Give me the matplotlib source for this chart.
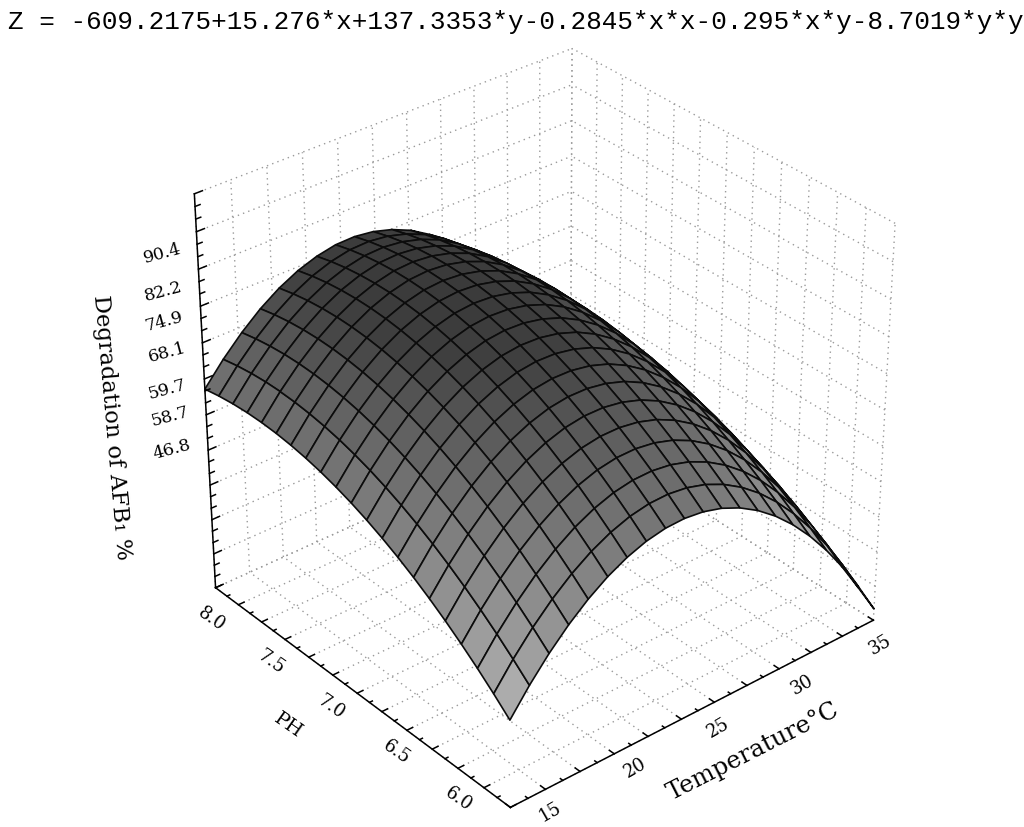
import numpy as np
import matplotlib
matplotlib.use('Agg')
import matplotlib.pyplot as plt
from matplotlib.colors import LinearSegmentedColormap, Normalize

title = "Z = -609.2175+15.276*x+137.3353*y-0.2845*x*x-0.295*x*y-8.7019*y*y"
temperature = [15,16,17,18,19,20,21,22,23,24,25,26,27,28,29,30,31,32,33,34,35]
ph = [6.0,6.1,6.2,6.3,6.4,6.5,6.6,6.7,6.8,6.9,7.0,7.1,7.2,7.3,7.4,7.5,7.6,7.7,7.8,7.9,8.0]
degradation = [
[40.10,44.79,48.91,52.45,55.43,57.84,59.68,60.96,61.66,61.79,61.36,60.36,58.78,56.64,53.93,50.65,46.80,42.38,37.40,31.84,25.72],
[42.86,47.52,51.61,55.12,58.07,60.45,62.26,63.52,64.19,64.29,63.83,62.80,61.19,59.02,56.28,52.97,49.09,44.64,39.63,34.04,27.89],
[45.45,50.08,54.14,57.62,60.54,62.89,64.67,65.90,66.54,66.61,66.12,65.06,63.42,61.22,58.45,55.12,51.21,46.73,41.69,36.07,29.89],
[47.86,52.46,56.49,59.95,62.84,65.16,66.91,68.11,68.72,68.76,68.24,67.15,65.48,63.25,60.45,57.09,53.15,48.64,43.57,37.92,31.71],
[50.10,54.67,58.67,62.10,64.96,67.25,68.97,70.14,70.72,70.73,70.18,69.07,67.37,65.11,62.28,58.89,54.92,50.38,45.28,39.60,33.36],
[52.17,56.71,60.68,64.08,66.91,69.17,70.86,72.00,72.55,72.53,71.95,70.81,69.08,66.79,63.93,60.51,56.51,51.94,46.81,41.11,34.84],
[54.06,58.57,62.51,65.88,68.68,70.91,72.57,73.69,74.21,74.16,73.55,72.38,70.62,68.30,65.41,61.96,57.93,53.33,48.17,42.44,36.14],
[55.78,60.26,64.17,67.51,70.28,72.48,74.11,75.20,75.69,75.61,74.97,73.77,71.98,69.63,66.71,63.24,59.18,54.55,49.36,43.60,37.27],
[57.32,61.77,65.65,68.97,71.71,73.88,75.48,76.54,77.00,76.89,76.22,74.99,73.17,70.79,67.84,64.34,60.25,55.59,50.37,44.58,38.22],
[58.69,63.11,66.96,70.25,72.96,75.10,76.67,77.70,78.13,77.99,77.29,76.04,74.19,71.78,68.80,65.27,61.15,56.46,51.21,45.39,39.00],
[59.89,64.28,68.10,71.36,74.04,76.15,77.69,78.69,79.09,78.92,78.19,76.91,75.03,72.59,69.58,66.02,61.87,57.15,51.87,46.03,39.61],
[60.91,65.27,69.06,72.29,74.94,77.02,78.53,79.51,79.88,79.68,78.92,77.61,75.70,73.23,70.19,66.60,62.42,57.67,52.36,46.49,40.04],
[61.76,66.09,69.85,73.05,75.67,77.72,79.20,80.15,80.49,80.26,79.47,78.13,76.19,73.69,70.62,67.01,62.80,58.02,52.68,46.78,40.30],
[62.43,66.73,70.46,73.64,76.23,78.25,79.70,80.62,80.93,80.67,79.85,78.48,76.51,73.98,70.88,67.24,63.00,58.19,52.82,46.89,40.38],
[62.93,67.20,70.90,74.05,76.61,78.60,80.02,80.91,81.19,80.90,80.05,78.66,76.66,74.10,70.97,67.30,63.03,58.19,52.79,46.83,40.29],
[63.26,67.50,71.17,74.29,76.82,78.78,80.17,81.03,81.28,80.96,80.08,78.66,76.63,74.04,70.88,67.18,62.88,58.01,52.58,46.60,40.03],
[63.41,67.62,71.26,74.35,76.85,78.78,80.14,80.98,81.20,80.85,79.94,78.49,76.43,73.81,70.62,66.89,62.56,57.66,52.20,46.19,39.59],
[63.39,67.57,71.18,74.24,76.71,78.61,79.94,80.75,80.94,80.56,79.62,78.14,76.05,73.40,70.18,66.43,62.07,57.14,51.65,45.61,38.98],
[63.19,67.34,70.92,73.96,76.40,78.27,79.57,80.35,80.51,80.10,79.13,77.62,75.50,72.82,69.57,65.79,61.40,56.44,50.92,44.85,38.19],
[62.82,66.94,70.49,73.50,75.91,77.75,79.02,79.77,79.90,79.46,78.46,76.93,74.78,72.07,68.79,64.98,60.56,55.57,50.02,43.92,37.23],
[62.28,66.37,69.89,72.87,75.25,77.06,78.30,79.02,79.12,78.65,77.62,76.06,73.88,71.14,67.83,63.99,59.54,54.52,48.94,42.82,36.10],
]
temp_ticks = ['15','20','25','30','35']
ph_ticks = ['6.0','6.5','7.0','7.5','8.0']
z_ticks = ['90.4','82.2','74.9','68.1','59.7','58.7','46.8']

T0, T1 = temperature[0], temperature[-1]
P0, P1 = ph[0], ph[-1]
ZMIN, ZMAX = 23.458, 98.131
X, Y = np.meshgrid(temperature, ph)
Z = np.array(degradation)

W, H = 1024, 828
fig = plt.figure(figsize=(W/100, H/100), dpi=100)
ax = fig.add_axes([130.7/W, 2.8/H, 801.9/W, 801.9/H], projection='3d', computed_zorder=False)
ax.set_xlim(T0, T1, view_margin=0)
ax.set_ylim(P0, P1, view_margin=0)
ax.set_zlim(ZMIN, ZMAX, view_margin=0)
ax.set_axis_off()
ax.view_init(elev=32.325, azim=-129.954)
ax.set_proj_type('persp', focal_length=0.912)
ax.set_box_aspect((1.005, 1, 0.973))

GRID = dict(color='#9a9a9a', linewidth=1.0, linestyle=(0, (1, 3)), zorder=1)
TT = np.linspace(T0, T1, 12)
PP = np.linspace(P0, P1, 13)
ZZ = np.linspace(ZMIN, ZMAX, 12)
for v in TT:
    ax.plot([v,v],[P0,P1],[ZMIN,ZMIN],**GRID)
    ax.plot([v,v],[P1,P1],[ZMIN,ZMAX],**GRID)
for v in PP:
    ax.plot([T0,T1],[v,v],[ZMIN,ZMIN],**GRID)
    ax.plot([T1,T1],[v,v],[ZMIN,ZMAX],**GRID)
for v in ZZ:
    ax.plot([T0,T1],[P1,P1],[v,v],**GRID)
    ax.plot([T1,T1],[P0,P1],[v,v],**GRID)

cm = LinearSegmentedColormap.from_list('g', [(0, '#bcbcbc'), (24/43, '#787878'), (32/43, '#5e5e5e'),
                                             (36/43, '#505050'), (39/43, '#404040'), (1, '#3a3a3a')])
ax.plot_surface(X, Y, Z, rstride=1, cstride=1, cmap=cm, norm=Normalize(38, 81), shade=False,
                edgecolor='#0c0c0c', linewidth=1.2, antialiased=True, zorder=3)

AX = dict(color='black', linewidth=1.1, zorder=5)
ax.plot([T0,T1],[P0,P0],[ZMIN,ZMIN],**AX)
ax.plot([T0,T0],[P0,P1],[ZMIN,ZMIN],**AX)
ax.plot([T0,T0],[P1,P1],[ZMIN,ZMAX],**AX)
for i, v in enumerate(np.linspace(T0,T1,23)):
    ax.plot([v,v],[P0,P0+(0.03 if i%2==0 else 0.015)],[ZMIN,ZMIN],**AX)
for i, v in enumerate(np.linspace(P0,P1,25)):
    ax.plot([T0,T0+(0.3 if i%2==0 else 0.15)],[v,v],[ZMIN,ZMIN],**AX)
for i, v in enumerate(np.linspace(ZMIN,ZMAX,34)):
    ax.plot([T0,T0+(0.4 if i%3==0 else 0.25)],[P1,P1],[v,v],**AX)

def lab(px, py, s_, rot, size, fam='DejaVu Serif'):
    fig.text(px/W, 1-py/H, s_, rotation=rot, rotation_mode='anchor', fontsize=size, family=fam,
             ha='center', va='center', color='black')

for (px,py),s_ in zip([(550,812),(635,768),(718,728),(802,685),(880,645)], temp_ticks):
    lab(px,py,s_,30,13)
for (px,py),s_ in zip([(458,799),(396,752),(331,707),(271,662),(211,619)], ph_ticks):
    lab(px,py,s_,-35,13)
for (px,py),s_ in zip([(162,254),(163,292),(164,322),(167,353),(167,390),(170,417),(172,450)], z_ticks):
    lab(px,py,s_,15,12.5)
lab(753,752,'Temperature°C',27,17.5)
lab(288,726,'PH',-35,14)
lab(112,427,'Degradation of AFB\u2081 %',-85,16.3)
fig.text(8/W, 1-22/H, title, fontsize=18.75, family='Liberation Mono', ha='left', va='center')
fig.savefig('out.png', dpi=100)
